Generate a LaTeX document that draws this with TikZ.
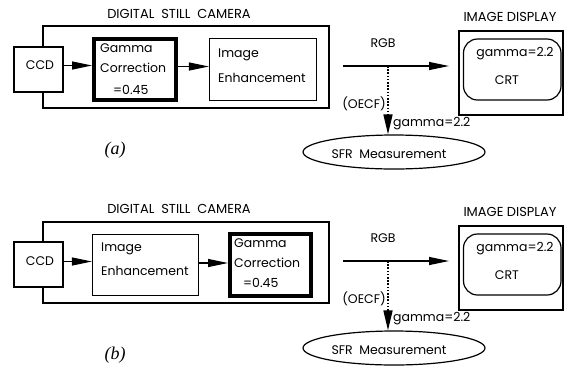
\documentclass[tikz,border=0pt]{standalone}
\usepackage{fontspec}
\setmainfont{Poppins}
\newfontfamily\panelfont{Liberation Serif}
\usetikzlibrary{arrows.meta,shapes.geometric,fit}

\begin{document}
\begin{tikzpicture}[x=1pt,y=-1pt,
  frame/.style={draw, line width=1.2pt, inner sep=0pt},
  whitebox/.style={frame, fill=white},
  heavybox/.style={draw, line width=4pt, inner sep=0pt},
  crtbox/.style={frame, rounded corners=14pt},
  txt/.style={inner sep=0pt, font=\fontsize{12.5}{14}\selectfont},
  ltxt/.style={txt, anchor=west},
  heading/.style={inner sep=0pt, font=\fontsize{13}{15}\selectfont},
  panel/.style={inner sep=0pt, font=\panelfont\itshape\fontsize{18}{20}\selectfont},
  arr/.style={line width=1.2pt, -{Triangle[length=20pt,width=8pt]}},
  dotarr/.style={line width=1.6pt, dash pattern=on 1.6pt off 1.6pt,
    -{Triangle[length=20pt,width=9pt]}},
  meas/.style={draw, line width=1.2pt, ellipse, minimum width=182pt,
    minimum height=34pt, inner sep=0pt}]
\useasboundingbox (0,0) rectangle (565,368);

% ---------------- panel (a): gamma correction before enhancement
\node[heading] (camtitleA) at (179,14) {DIGITAL\ \ STILL\ \ CAMERA};
\node[frame, fit={(43,26) (329,108)}] (camA) {};
\node[whitebox, fit={(14,47) (63,92)}] (ccdA) {};
\node[txt] (ccdtA) at (40,65) {CCD};
\node[heavybox, fit={(94,39) (176,100)}] (gamA) {};
\node[ltxt] (gam1A) at (100,48) {Gamma};
\node[ltxt] (gam2A) at (100,68) {Correction};
\node[ltxt] (gam3A) at (113,90) {=0.45};
\node[frame, fit={(209.5,38.5) (316.5,100.5)}] (enhA) {};
\node[ltxt] (enh1A) at (218,55) {Image};
\node[ltxt] (enh2A) at (218,78) {Enhancement};
\draw[arr] ([yshift=4pt]ccdA.east) -- ([yshift=4pt]gamA.west);
\draw[arr] ([yshift=3pt]gamA.east) -- ([yshift=3pt]enhA.west);

\coordinate (rgbsA) at (343,66);
\coordinate (rgbeA) at (449,66);
\coordinate (tapA) at (388,66);
\node[txt] (rgbA) at (383,43) {RGB};
\draw[arr] (rgbsA) -- (rgbeA);
\node[meas] (sfrA) at (394,152) {};
\node[txt] (sfrtA) at (389,154) {SFR\ \ Measurement};
\draw[dotarr] (tapA) -- (tapA |- sfrA.north);
\node[txt, anchor=east] (oecfA) at (386,104) {(OECF)};
\node[ltxt] (gdA) at (393,124) {gamma=2.2};

\node[heading] (distitleA) at (510,17) {IMAGE DISPLAY};
\node[frame, fit={(459,31) (563,115)}] (disA) {};
\node[crtbox, fit={(463.5,39) (561,100)}] (crtA) {};
\node[txt] (crtgA) at (515,54) {gamma=2.2};
\node[txt] (crttA) at (507,80) {CRT};

\node[panel] (labA) at (115,150) {(a)};

% ---------------- panel (b): enhancement before gamma correction
\node[heading] (camtitleB) at (179,209) {DIGITAL\ \ STILL\ \ CAMERA};
\node[frame, fit={(43,222) (329,303)}] (camB) {};
\node[whitebox, fit={(14,242) (63,287)}] (ccdB) {};
\node[txt] (ccdtB) at (40,261) {CCD};
\node[frame, fit={(92.5,234.5) (198.5,295.5)}] (enhB) {};
\node[ltxt] (enh1B) at (101,249) {Image};
\node[ltxt] (enh2B) at (101,271) {Enhancement};
\node[heavybox, fit={(230,234) (311,296)}] (gamB) {};
\node[ltxt] (gam1B) at (234,243) {Gamma};
\node[ltxt] (gam2B) at (234,263) {Correction};
\node[ltxt] (gam3B) at (243,283) {=0.45};
\draw[arr] ([yshift=3pt]ccdB.east) -- ([yshift=3pt]ccdB.east -| enhB.west);
\draw[arr] ([yshift=2pt]enhB.east) -- ([yshift=2pt]enhB.east -| gamB.west);

\coordinate (rgbsB) at (343,261);
\coordinate (rgbeB) at (449,261);
\coordinate (tapB) at (388,261);
\node[txt] (rgbB) at (383,238) {RGB};
\draw[arr] (rgbsB) -- (rgbeB);
\node[meas] (sfrB) at (394,348) {};
\node[txt] (sfrtB) at (389,350) {SFR\ \ Measurement};
\draw[dotarr] (tapB) -- (tapB |- sfrB.north);
\node[txt, anchor=east] (oecfB) at (386,299) {(OECF)};
\node[ltxt] (gdB) at (393,319) {gamma=2.2};

\node[heading] (distitleB) at (510,212) {IMAGE DISPLAY};
\node[frame, fit={(459,226) (563,310)}] (disB) {};
\node[crtbox, fit={(463.5,234) (561,295)}] (crtB) {};
\node[txt] (crtgB) at (515,249) {gamma=2.2};
\node[txt] (crttB) at (507,275) {CRT};

\node[panel] (labB) at (115,355) {(b)};
\end{tikzpicture}
\end{document}
